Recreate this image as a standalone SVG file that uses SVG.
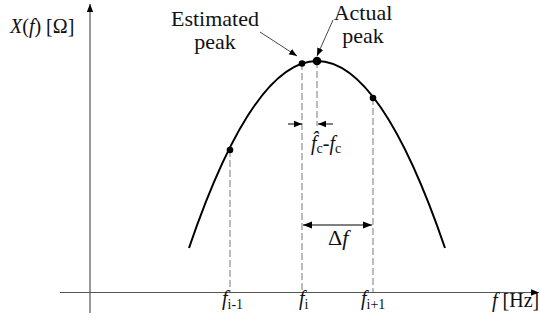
<svg xmlns="http://www.w3.org/2000/svg" width="540" height="325" viewBox="0 0 540 325">
<defs>
<marker id="ah" viewBox="0 0 10 10" refX="10" refY="5" markerWidth="8" markerHeight="8" markerUnits="userSpaceOnUse" orient="auto">
<path d="M0,1 L10,5 L0,9 z" fill="#000"/>
</marker>
<marker id="ahs" viewBox="0 0 10 10" refX="10" refY="5" markerWidth="9" markerHeight="9" markerUnits="userSpaceOnUse" orient="auto-start-reverse">
<path d="M0,1 L10,5 L0,9 z" fill="#000"/>
</marker>
</defs>
<style>
text{font-family:"Liberation Serif","Times New Roman",serif;font-size:20px;fill:#111}
.it{font-style:italic}
.up{font-style:normal}
.sub{font-size:14px;font-style:normal}
.lbl{font-size:22px}
.axis{stroke:#555;stroke-width:1.2;fill:none}
.dash{stroke:#999;stroke-width:1.3;stroke-dasharray:7 3;fill:none}
.curve{stroke:#000;stroke-width:2;fill:none}
.ptr{stroke:#333;stroke-width:0.9;fill:none}
.dim{stroke:#000;stroke-width:1;fill:none}
</style>
<g id="connectors">
<line class="axis" x1="90" y1="313" x2="90" y2="4" marker-end="url(#ah)"/>
<line class="axis" x1="60" y1="292.5" x2="539" y2="292.5" marker-end="url(#ah)"/>
<line class="dash" x1="230" y1="150" x2="230" y2="292"/>
<line class="dash" x1="302" y1="63" x2="302" y2="292"/>
<line class="dash" x1="317" y1="61" x2="317" y2="126"/>
<line class="dash" x1="373" y1="98" x2="373" y2="292"/>
<line class="ptr" x1="260" y1="32" x2="297" y2="56" marker-end="url(#ah)"/>
<line class="ptr" x1="333" y1="20" x2="317" y2="56" marker-end="url(#ah)"/>
<line class="dim" x1="288" y1="124" x2="302" y2="124" marker-end="url(#ah)"/>
<line class="dim" x1="333" y1="124" x2="318" y2="124" marker-end="url(#ah)"/>
<line class="dim" x1="303" y1="225" x2="372" y2="225" marker-start="url(#ahs)" marker-end="url(#ahs)"/>
</g>
<g id="curve">
<path class="curve" d="M189,248 Q317,-126 445,248"/>
<circle cx="230" cy="150" r="3.3" fill="#000"/>
<circle cx="302" cy="63.5" r="3.3" fill="#000"/>
<circle cx="317" cy="61" r="4.3" fill="#000"/>
<circle cx="373" cy="98" r="3.3" fill="#000"/>
</g>
<g id="ylabel"><text x="10" y="33"><tspan class="it">X</tspan>(<tspan class="it">f</tspan>) [Ω]</text></g>
<g id="estimated"><text x="215" y="26" text-anchor="middle" class="lbl">Estimated</text><text x="215" y="49" text-anchor="middle" class="lbl">peak</text></g>
<g id="actual"><text x="363" y="20" text-anchor="middle" class="lbl">Actual</text><text x="363" y="43" text-anchor="middle" class="lbl">peak</text></g>
<g id="err"><text x="311" y="150" class="it">f̂<tspan class="sub" dy="3">c</tspan><tspan dy="-3" class="up">-</tspan><tspan>f</tspan><tspan class="sub" dy="3">c</tspan></text></g>
<g id="df"><text x="328" y="245" style="font-size:22px">Δ<tspan class="it">f</tspan></text></g>
<g id="ticks">
<text x="222" y="305" class="it">f<tspan class="sub" dy="4">i-1</tspan></text>
<text x="299" y="305" class="it">f<tspan class="sub" dy="4">i</tspan></text>
<text x="361" y="305" class="it">f<tspan class="sub" dy="4">i+1</tspan></text>
<text x="492" y="307"><tspan class="it">f</tspan> [Hz]</text>
</g>
</svg>
